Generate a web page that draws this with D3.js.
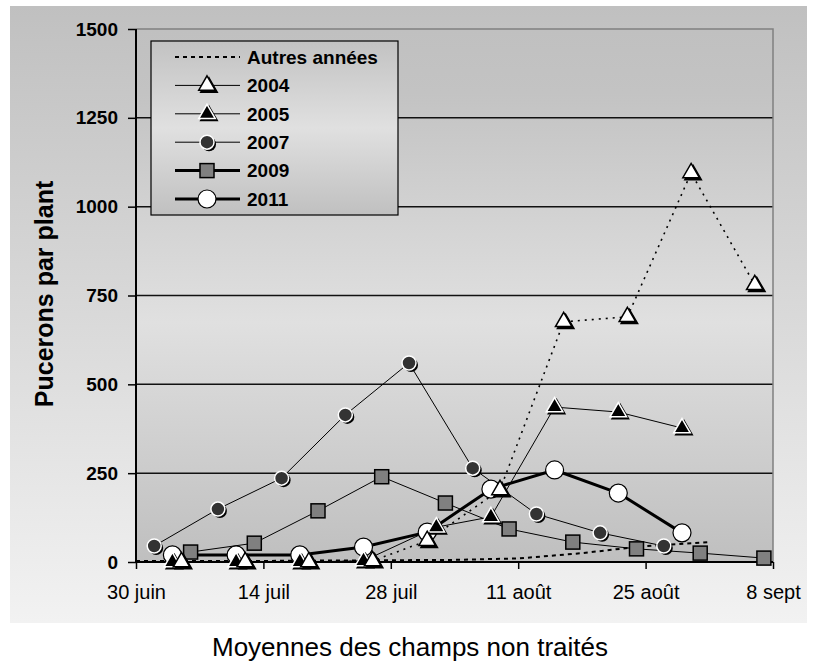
<!DOCTYPE html>
<html>
<head>
<meta charset="utf-8">
<script src="https://cdn.jsdelivr.net/npm/d3@7"></script>
<style>
  body { margin: 0; background: #fff; }
  svg { display: block; font-family: "Liberation Sans", Arial, sans-serif; }
</style>
</head>
<body>
<svg id="chart" width="813" height="662"></svg>
<script>
// --- data ---
const seasonYear = 2011;
const tickDates = ["06-30", "07-14", "07-28", "08-11", "08-25", "09-08"];
const tickLabels = ["30 juin", "14 juil", "28 juil", "11 août", "25 août", "8 sept"];
const yTicks = [0, 250, 500, 750, 1000, 1250, 1500];

const autresDates = ["06-30", "07-07", "07-14", "07-21", "07-28", "08-04", "08-11", "08-18", "08-25", "09-01"];
const autresValues = [3, 3, 3, 4, 5, 6, 10, 25, 45, 56];

const dates2004 = ["07-05", "07-12", "07-19", "07-26", "08-01", "08-09", "08-16", "08-23", "08-30", "09-06"];
const values2004 = [0, 0, 0, 3, 60, 203, 676, 690, 1095, 780];

const dates2005 = ["07-04", "07-11", "07-18", "07-25", "08-02", "08-08", "08-15", "08-22", "08-29"];
const values2005 = [0, 0, 0, 3, 98, 127, 436, 422, 377];

const dates2007 = ["07-02", "07-09", "07-16", "07-23", "07-30", "08-06", "08-13", "08-20", "08-27"];
const values2007 = [45, 149, 236, 414, 560, 264, 135, 82, 45];

const dates2009 = ["07-06", "07-13", "07-20", "07-27", "08-03", "08-10", "08-17", "08-24", "08-31", "09-07"];
const values2009 = [28, 53, 144, 240, 166, 93, 56, 37, 25, 11];

const dates2011 = ["07-04", "07-11", "07-18", "07-25", "08-01", "08-08", "08-15", "08-22", "08-29"];
const values2011 = [20, 20, 20, 42, 84, 205, 259, 194, 82];

const parseDay = d3.timeParse("%Y-%m-%d");
const toDate = s => parseDay(seasonYear + "-" + s);
const zip = (ds, vs) => ds.map((d, i) => ({ date: toDate(d), value: vs[i] }));

// series styling: line style in the plot and in the legend can differ (as in the original)
const series = [
  { name: "Autres années", pts: zip(autresDates, autresValues), width: 2, dash: "4,4", legendWidth: 2, legendDash: "4,4", marker: null },
  { name: "2004", pts: zip(dates2004, values2004), width: 1.6, dash: "2,5", legendWidth: 1, legendDash: null, marker: "triWhite" },
  { name: "2005", pts: zip(dates2005, values2005), width: 1, dash: null, legendWidth: 1, legendDash: null, marker: "triBlack" },
  { name: "2007", pts: zip(dates2007, values2007), width: 1, dash: null, legendWidth: 1, legendDash: null, marker: "dot" },
  { name: "2009", pts: zip(dates2009, values2009), width: 1, dash: null, legendWidth: 3, legendDash: null, marker: "square" },
  { name: "2011", pts: zip(dates2011, values2011), width: 3, dash: null, legendWidth: 3, legendDash: null, marker: "ring" }
];
// markers drawn bottom-to-top in this order
const markerOrder = ["2009", "2007", "2011", "2005", "2004"];

// --- layout ---
const svg = d3.select("#chart");
const plot = { left: 136, top: 29, right: 773, bottom: 562 };

const x = d3.scaleTime()
  .domain([toDate(tickDates[0]), toDate(tickDates[tickDates.length - 1])])
  .range([plot.left, plot.right]);
const y = d3.scaleLinear().domain([0, 1500]).range([plot.bottom, plot.top]);

const defs = svg.append("defs");
function vGrad(id, stops) {
  const g = defs.append("linearGradient").attr("id", id)
    .attr("x1", 0).attr("y1", 0).attr("x2", 0).attr("y2", 1);
  stops.forEach(([o, c]) => g.append("stop").attr("offset", o).attr("stop-color", c));
}
vGrad("outerGrad", [[0, "#c0c0c0"], [1, "#f2f2f2"]]);
vGrad("plotGrad", [[0, "#c0c0c0"], [0.12, "#c3c3c3"], [0.55, "#e0e0e0"], [1, "#bfbfbf"]]);
vGrad("legendGrad", [[0, "#c2c2c2"], [0.5, "#e0e0e0"], [1, "#c0c0c0"]]);

// outer chart area
svg.append("rect").attr("x", 10).attr("y", 6).attr("width", 797).attr("height", 617)
  .attr("fill", "url(#outerGrad)");

// plot area
svg.append("rect")
  .attr("x", plot.left).attr("y", plot.top)
  .attr("width", plot.right - plot.left).attr("height", plot.bottom - plot.top)
  .attr("fill", "url(#plotGrad)");

// gridlines
svg.append("g").selectAll("line")
  .data(yTicks.filter(v => v > 0 && v < 1500))
  .join("line")
  .attr("x1", plot.left).attr("x2", plot.right)
  .attr("y1", d => y(d)).attr("y2", d => y(d))
  .attr("stroke", "#111").attr("stroke-width", 1.5);

// top & right border
svg.append("path")
  .attr("d", `M${plot.left},${plot.top}H${plot.right}V${plot.bottom}`)
  .attr("fill", "none").attr("stroke", "#808080").attr("stroke-width", 1.5);

// y axis
const yAxis = svg.append("g")
  .attr("transform", `translate(${plot.left},0)`)
  .call(d3.axisLeft(y).tickValues(yTicks).tickFormat(d3.format("d"))
    .tickSize(8).tickPadding(10));
yAxis.select(".domain").remove();
yAxis.selectAll(".tick line").attr("stroke", "#000").attr("stroke-width", 1.5);
yAxis.selectAll("text")
  .attr("font-family", "Liberation Sans, Arial, sans-serif")
  .attr("font-size", 19).attr("font-weight", "bold").attr("fill", "#000");

// x axis
const xAxis = svg.append("g")
  .attr("transform", `translate(0,${plot.bottom})`)
  .call(d3.axisBottom(x)
    .tickValues(tickDates.map(toDate))
    .tickSize(7).tickPadding(16)
    .tickFormat((d, i) => tickLabels[i]));
xAxis.select(".domain").remove();
xAxis.selectAll(".tick line").attr("stroke", "#000").attr("stroke-width", 1.5);
xAxis.selectAll("text")
  .attr("font-family", "Liberation Sans, Arial, sans-serif")
  .attr("font-size", 20).attr("fill", "#000");

// axis lines
svg.append("path")
  .attr("d", `M${plot.left},${plot.top}V${plot.bottom}H${plot.right}`)
  .attr("fill", "none").attr("stroke", "#000").attr("stroke-width", 2);

// series lines
const line = d3.line().x(d => x(d.date)).y(d => y(d.value));
const linesG = svg.append("g").attr("fill", "none").attr("stroke", "#000")
  .attr("stroke-linejoin", "round");
series.forEach(s => {
  linesG.append("path")
    .attr("d", line(s.pts))
    .attr("stroke-width", s.width)
    .attr("stroke-dasharray", s.dash);
});

// markers
function drawMarker(g, kind, cx, cy) {
  const tri = d3.symbol().type(d3.symbolTriangle).size(118)();
  if (kind === "triWhite" || kind === "triBlack") {
    g.append("path").attr("d", tri)
      .attr("transform", `translate(${cx + 2},${cy + 2})`)
      .attr("fill", "#000").attr("stroke", "#000").attr("stroke-width", 1.5);
    g.append("path").attr("d", tri)
      .attr("transform", `translate(${cx},${cy})`)
      .attr("fill", kind === "triWhite" ? "#fff" : "#000")
      .attr("stroke", kind === "triWhite" ? "#000" : "#fff")
      .attr("stroke-width", 1.5).attr("stroke-linejoin", "miter");
  } else if (kind === "dot") {
    g.append("circle").attr("cx", cx + 2).attr("cy", cy + 2).attr("r", 7).attr("fill", "#000");
    g.append("circle").attr("cx", cx).attr("cy", cy).attr("r", 7)
      .attr("fill", "#333").attr("stroke", "#fff").attr("stroke-width", 1.5);
  } else if (kind === "square") {
    g.append("rect").attr("x", cx - 7).attr("y", cy - 7).attr("width", 14).attr("height", 14)
      .attr("fill", "#808080").attr("stroke", "#000").attr("stroke-width", 1.5);
  } else if (kind === "ring") {
    g.append("circle").attr("cx", cx).attr("cy", cy).attr("r", 9)
      .attr("fill", "#fff").attr("stroke", "#000").attr("stroke-width", 1.2);
  }
}

const markersG = svg.append("g");
markerOrder.forEach(name => {
  const s = series.find(d => d.name === name);
  s.pts.forEach(p => drawMarker(markersG, s.marker, x(p.date), y(p.value)));
});

// legend
const legend = svg.append("g");
legend.append("rect").attr("x", 151).attr("y", 41).attr("width", 247).attr("height", 174)
  .attr("fill", "url(#legendGrad)").attr("stroke", "#000").attr("stroke-width", 1.2);
series.forEach((s, i) => {
  const ly = 57 + i * 28.4;
  legend.append("line")
    .attr("x1", 175).attr("x2", 240).attr("y1", ly).attr("y2", ly)
    .attr("stroke", "#000").attr("stroke-width", s.legendWidth)
    .attr("stroke-dasharray", s.legendDash);
  if (s.marker) drawMarker(legend, s.marker, 207, ly);
  legend.append("text")
    .attr("x", 247).attr("y", ly).attr("dy", "0.36em")
    .attr("font-size", 19).attr("font-weight", "bold")
    .text(s.name);
});

// axis title
svg.append("text")
  .attr("transform", "translate(53,294) rotate(-90)")
  .attr("text-anchor", "middle")
  .attr("font-size", 25).attr("font-weight", "bold")
  .text("Pucerons par plant");

// caption under the chart
svg.append("text")
  .attr("x", 410).attr("y", 656)
  .attr("text-anchor", "middle")
  .attr("font-size", 26)
  .text("Moyennes des champs non traités");
</script>
</body>
</html>
